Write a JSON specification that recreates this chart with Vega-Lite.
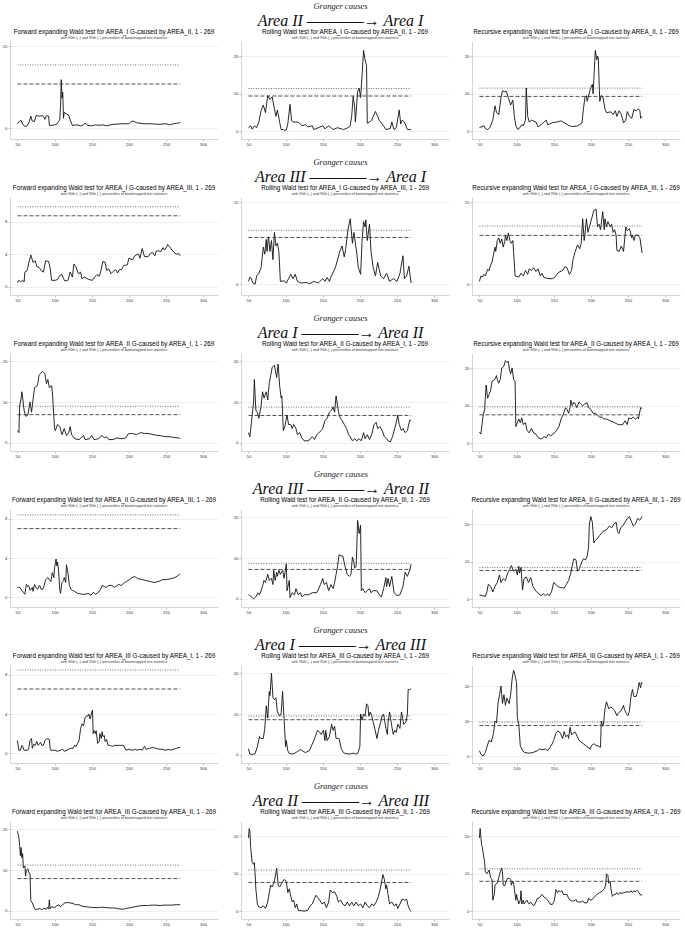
{
"$schema": "https://vega.github.io/schema/vega-lite/v6.json",
"background": "white",
"padding": {"left": 1, "right": 1, "top": 1, "bottom": 1},
"config": {
 "font": "Liberation Sans",
 "view": {"stroke": null},
 "axis": {"labelFontSize": 4.3, "labelColor": "#333", "labelOverlap": false, "tickSize": 2, "tickWidth": 0.5, "tickColor": "#888", "domainColor": "#bbb", "domainWidth": 0.6, "labelPadding": 1, "gridColor": "#e4e4e4", "gridWidth": 0.6},
 "axisX": {"grid": false},
 "axisY": {"grid": true, "minExtent": 9, "maxExtent": 9},
 "title": {"fontSize": 6.3, "fontWeight": "normal", "color": "#000", "subtitleFontSize": 3.6, "subtitleColor": "#333", "offset": 1.5, "subtitlePadding": 0.6},
 "concat": {"spacing": 14},
 "line": {"color": "#111", "strokeWidth": 0.9},
 "rule": {"strokeWidth": 0.85}
},
"datasets": {
"thr": [
{"k":"a1","q":"90th","v":8.1,"x0":50,"x1":269},{"k":"a1","q":"95th","v":11.6,"x0":50,"x1":269},
{"k":"a2","q":"90th","v":9.4,"x0":50,"x1":269},{"k":"a2","q":"95th","v":11.4,"x0":50,"x1":269},
{"k":"a3","q":"90th","v":9.3,"x0":50,"x1":269},{"k":"a3","q":"95th","v":11.5,"x0":50,"x1":269},
{"k":"b1","q":"90th","v":8.7,"x0":50,"x1":269},{"k":"b1","q":"95th","v":9.8,"x0":50,"x1":269},
{"k":"b2","q":"90th","v":8.55,"x0":50,"x1":269},{"k":"b2","q":"95th","v":9.9,"x0":50,"x1":269},
{"k":"b3","q":"90th","v":8.95,"x0":50,"x1":269},{"k":"b3","q":"95th","v":10.65,"x0":50,"x1":269},
{"k":"c1","q":"90th","v":6.9,"x0":50,"x1":269},{"k":"c1","q":"95th","v":8.95,"x0":50,"x1":269},
{"k":"c2","q":"90th","v":6.7,"x0":50,"x1":269},{"k":"c2","q":"95th","v":8.75,"x0":50,"x1":269},
{"k":"c3","q":"90th","v":7.6,"x0":50,"x1":269},{"k":"c3","q":"95th","v":9.7,"x0":50,"x1":269},
{"k":"d1","q":"90th","v":7.0,"x0":50,"x1":269},{"k":"d1","q":"95th","v":8.4,"x0":50,"x1":269},
{"k":"d2","q":"90th","v":7.2,"x0":50,"x1":269},{"k":"d2","q":"95th","v":8.7,"x0":50,"x1":269},
{"k":"d3","q":"90th","v":7.7,"x0":50,"x1":269},{"k":"d3","q":"95th","v":8.45,"x0":50,"x1":269},
{"k":"e1","q":"90th","v":6.55,"x0":50,"x1":269},{"k":"e1","q":"95th","v":8.5,"x0":50,"x1":269},
{"k":"e2","q":"90th","v":8.6,"x0":50,"x1":269},{"k":"e2","q":"95th","v":9.5,"x0":50,"x1":269},
{"k":"e3","q":"90th","v":8.7,"x0":50,"x1":269},{"k":"e3","q":"95th","v":9.7,"x0":50,"x1":269},
{"k":"f1","q":"90th","v":7.9,"x0":50,"x1":269},{"k":"f1","q":"95th","v":11.2,"x0":50,"x1":269},
{"k":"f2","q":"90th","v":7.7,"x0":50,"x1":269},{"k":"f2","q":"95th","v":11.0,"x0":50,"x1":269},
{"k":"f3","q":"90th","v":8.0,"x0":50,"x1":269},{"k":"f3","q":"95th","v":11.3,"x0":50,"x1":269}
],
"a1": [{"x":50,"y":0.8},{"x":53,"y":1.3},{"x":55,"y":1.4},{"x":57,"y":0.7},{"x":60,"y":0.3},{"x":63,"y":0.4},{"x":66,"y":1.2},{"x":68,"y":2.2},{"x":70,"y":1.3},{"x":73,"y":1.2},{"x":75,"y":2.3},{"x":80,"y":2.2},{"x":84,"y":2.3},{"x":87,"y":1.6},{"x":89,"y":2.3},{"x":92,"y":2.2},{"x":93,"y":0.5},{"x":97,"y":0.5},{"x":100,"y":0.6},{"x":103,"y":0.7},{"x":105,"y":1.2},{"x":107,"y":1.5},{"x":108,"y":4.0},{"x":109,"y":8.9},{"x":110,"y":5.5},{"x":111,"y":6.6},{"x":112,"y":1.8},{"x":113,"y":2.9},{"x":116,"y":2.6},{"x":119,"y":2.4},{"x":121,"y":1.5},{"x":124,"y":0.5},{"x":130,"y":0.6},{"x":135,"y":0.4},{"x":139,"y":0.6},{"x":141,"y":0.9},{"x":145,"y":0.5},{"x":150,"y":0.4},{"x":155,"y":0.6},{"x":160,"y":0.5},{"x":165,"y":0.6},{"x":170,"y":0.4},{"x":175,"y":0.6},{"x":180,"y":0.7},{"x":190,"y":0.8},{"x":200,"y":0.8},{"x":203,"y":1.2},{"x":206,"y":1.3},{"x":210,"y":1.0},{"x":220,"y":0.8},{"x":230,"y":0.8},{"x":240,"y":0.7},{"x":250,"y":0.8},{"x":255,"y":0.6},{"x":260,"y":0.8},{"x":265,"y":0.9},{"x":269,"y":1.0}],
"a2": [{"x":50,"y":1.0},{"x":53,"y":1.5},{"x":55,"y":0.6},{"x":58,"y":1.5},{"x":61,"y":1.0},{"x":64,"y":2.5},{"x":67,"y":5.5},{"x":70,"y":7.0},{"x":73,"y":5.0},{"x":76,"y":9.5},{"x":79,"y":8.5},{"x":82,"y":9.2},{"x":84,"y":7.0},{"x":87,"y":4.0},{"x":89,"y":5.7},{"x":92,"y":2.5},{"x":94,"y":0.5},{"x":97,"y":0.5},{"x":98,"y":0.3},{"x":101,"y":0.4},{"x":103,"y":2.0},{"x":106,"y":7.2},{"x":108,"y":3.0},{"x":110,"y":2.5},{"x":116,"y":2.5},{"x":119,"y":2.2},{"x":122,"y":1.5},{"x":127,"y":1.8},{"x":130,"y":1.2},{"x":136,"y":1.5},{"x":138,"y":0.5},{"x":144,"y":1.0},{"x":150,"y":1.5},{"x":153,"y":0.7},{"x":158,"y":1.5},{"x":164,"y":0.5},{"x":170,"y":1.0},{"x":178,"y":0.5},{"x":184,"y":1.0},{"x":187,"y":1.5},{"x":189,"y":4.0},{"x":191,"y":9.3},{"x":193,"y":6.5},{"x":194,"y":2.5},{"x":196,"y":7.8},{"x":197,"y":10.5},{"x":199,"y":11.5},{"x":201,"y":9.0},{"x":203,"y":15.0},{"x":205,"y":21.5},{"x":207,"y":19.0},{"x":209,"y":17.5},{"x":210,"y":2.2},{"x":213,"y":2.5},{"x":216,"y":3.0},{"x":218,"y":4.0},{"x":221,"y":5.3},{"x":224,"y":4.0},{"x":226,"y":3.0},{"x":232,"y":1.5},{"x":235,"y":0.5},{"x":241,"y":0.8},{"x":243,"y":2.5},{"x":246,"y":0.5},{"x":249,"y":1.0},{"x":253,"y":5.7},{"x":255,"y":2.0},{"x":257,"y":3.0},{"x":260,"y":2.5},{"x":262,"y":1.5},{"x":264,"y":0.5},{"x":269,"y":0.5}],
"a3": [{"x":50,"y":1.0},{"x":56,"y":1.5},{"x":58,"y":0.8},{"x":61,"y":0.5},{"x":64,"y":1.0},{"x":68,"y":3.0},{"x":71,"y":6.8},{"x":73,"y":5.0},{"x":76,"y":4.5},{"x":79,"y":9.0},{"x":81,"y":10.8},{"x":84,"y":10.5},{"x":86,"y":10.7},{"x":89,"y":9.0},{"x":92,"y":7.0},{"x":95,"y":8.3},{"x":97,"y":4.0},{"x":99,"y":1.5},{"x":102,"y":0.5},{"x":105,"y":1.2},{"x":107,"y":1.8},{"x":109,"y":1.5},{"x":112,"y":3.0},{"x":113,"y":11.5},{"x":115,"y":4.0},{"x":117,"y":2.5},{"x":120,"y":3.0},{"x":126,"y":2.5},{"x":129,"y":1.2},{"x":134,"y":2.0},{"x":140,"y":3.0},{"x":142,"y":1.8},{"x":148,"y":2.3},{"x":154,"y":2.5},{"x":160,"y":2.8},{"x":165,"y":2.2},{"x":171,"y":1.5},{"x":176,"y":1.3},{"x":182,"y":1.5},{"x":188,"y":2.2},{"x":190,"y":6.0},{"x":192,"y":9.0},{"x":194,"y":9.5},{"x":195,"y":8.0},{"x":199,"y":11.0},{"x":202,"y":12.5},{"x":203,"y":10.0},{"x":204,"y":14.0},{"x":206,"y":21.5},{"x":208,"y":19.0},{"x":209,"y":20.0},{"x":210,"y":19.5},{"x":212,"y":8.0},{"x":214,"y":9.5},{"x":216,"y":9.3},{"x":219,"y":6.0},{"x":221,"y":5.0},{"x":227,"y":5.2},{"x":230,"y":4.5},{"x":233,"y":5.5},{"x":235,"y":4.0},{"x":238,"y":5.5},{"x":241,"y":4.5},{"x":244,"y":2.3},{"x":247,"y":3.0},{"x":249,"y":5.3},{"x":252,"y":4.0},{"x":255,"y":3.5},{"x":258,"y":5.8},{"x":261,"y":5.5},{"x":264,"y":6.0},{"x":266,"y":5.5},{"x":267,"y":3.5},{"x":269,"y":4.0}],
"b1": [{"x":50,"y":0.5},{"x":52,"y":0.8},{"x":54,"y":0.6},{"x":57,"y":0.8},{"x":59,"y":0.6},{"x":60,"y":1.8},{"x":63,"y":2.0},{"x":65,"y":2.8},{"x":68,"y":3.9},{"x":71,"y":3.0},{"x":74,"y":3.2},{"x":76,"y":2.5},{"x":79,"y":2.4},{"x":82,"y":2.0},{"x":85,"y":1.8},{"x":88,"y":3.2},{"x":92,"y":3.1},{"x":94,"y":2.3},{"x":96,"y":0.8},{"x":101,"y":0.8},{"x":104,"y":0.9},{"x":107,"y":1.4},{"x":110,"y":1.5},{"x":112,"y":1.0},{"x":114,"y":0.7},{"x":118,"y":0.8},{"x":121,"y":1.8},{"x":124,"y":1.2},{"x":126,"y":2.8},{"x":129,"y":2.4},{"x":132,"y":1.6},{"x":135,"y":1.8},{"x":137,"y":1.0},{"x":140,"y":1.2},{"x":146,"y":0.9},{"x":151,"y":0.8},{"x":154,"y":1.2},{"x":157,"y":1.5},{"x":160,"y":1.3},{"x":162,"y":1.8},{"x":165,"y":3.1},{"x":168,"y":3.0},{"x":170,"y":2.0},{"x":173,"y":2.2},{"x":176,"y":1.6},{"x":179,"y":1.9},{"x":182,"y":2.1},{"x":185,"y":1.7},{"x":187,"y":2.1},{"x":190,"y":2.1},{"x":193,"y":2.6},{"x":198,"y":2.7},{"x":200,"y":3.5},{"x":205,"y":3.3},{"x":207,"y":3.7},{"x":210,"y":3.9},{"x":213,"y":4.0},{"x":215,"y":3.5},{"x":218,"y":4.7},{"x":221,"y":3.7},{"x":226,"y":3.7},{"x":229,"y":4.1},{"x":232,"y":4.2},{"x":235,"y":3.8},{"x":237,"y":4.4},{"x":240,"y":4.4},{"x":243,"y":4.3},{"x":246,"y":4.8},{"x":248,"y":4.5},{"x":251,"y":4.9},{"x":252,"y":5.2},{"x":255,"y":4.9},{"x":258,"y":4.5},{"x":261,"y":4.2},{"x":264,"y":4.0},{"x":267,"y":4.1},{"x":269,"y":3.8}],
"b2": [{"x":50,"y":0.5},{"x":52,"y":1.3},{"x":54,"y":1.0},{"x":56,"y":0.2},{"x":59,"y":0.0},{"x":61,"y":1.5},{"x":64,"y":2.0},{"x":67,"y":3.0},{"x":70,"y":6.8},{"x":72,"y":5.5},{"x":74,"y":8.2},{"x":75,"y":6.0},{"x":77,"y":8.7},{"x":79,"y":6.0},{"x":81,"y":8.0},{"x":83,"y":4.5},{"x":85,"y":9.5},{"x":87,"y":7.0},{"x":89,"y":7.5},{"x":91,"y":6.0},{"x":93,"y":0.5},{"x":98,"y":0.6},{"x":101,"y":0.2},{"x":104,"y":1.0},{"x":107,"y":1.8},{"x":110,"y":1.0},{"x":113,"y":1.8},{"x":116,"y":0.5},{"x":121,"y":0.2},{"x":127,"y":0.3},{"x":133,"y":0.1},{"x":138,"y":0.5},{"x":144,"y":0.2},{"x":150,"y":1.0},{"x":153,"y":0.5},{"x":156,"y":1.2},{"x":159,"y":0.5},{"x":161,"y":1.3},{"x":167,"y":3.0},{"x":173,"y":6.0},{"x":176,"y":7.0},{"x":179,"y":5.0},{"x":181,"y":6.5},{"x":184,"y":10.0},{"x":187,"y":12.0},{"x":190,"y":7.5},{"x":192,"y":9.5},{"x":193,"y":8.5},{"x":196,"y":5.5},{"x":198,"y":3.0},{"x":201,"y":1.8},{"x":203,"y":8.0},{"x":205,"y":11.5},{"x":207,"y":10.5},{"x":208,"y":11.8},{"x":210,"y":8.0},{"x":213,"y":11.0},{"x":215,"y":6.0},{"x":218,"y":3.0},{"x":221,"y":1.5},{"x":224,"y":4.0},{"x":228,"y":1.5},{"x":232,"y":1.0},{"x":236,"y":2.0},{"x":240,"y":0.5},{"x":245,"y":1.0},{"x":250,"y":0.5},{"x":254,"y":2.0},{"x":258,"y":5.2},{"x":260,"y":1.0},{"x":263,"y":1.5},{"x":266,"y":3.3},{"x":269,"y":0.2}],
"b3": [{"x":50,"y":0.5},{"x":52,"y":1.5},{"x":54,"y":1.3},{"x":56,"y":1.8},{"x":58,"y":1.5},{"x":61,"y":2.7},{"x":63,"y":2.5},{"x":65,"y":3.5},{"x":67,"y":4.0},{"x":69,"y":5.5},{"x":71,"y":6.8},{"x":72,"y":6.0},{"x":74,"y":8.0},{"x":76,"y":8.5},{"x":78,"y":7.5},{"x":80,"y":8.3},{"x":82,"y":6.8},{"x":84,"y":7.8},{"x":85,"y":9.0},{"x":87,"y":8.0},{"x":89,"y":9.4},{"x":91,"y":8.0},{"x":93,"y":7.5},{"x":95,"y":8.0},{"x":98,"y":1.5},{"x":103,"y":1.3},{"x":106,"y":2.0},{"x":109,"y":1.5},{"x":112,"y":2.5},{"x":115,"y":1.8},{"x":117,"y":2.8},{"x":120,"y":2.5},{"x":123,"y":3.0},{"x":126,"y":2.3},{"x":129,"y":2.8},{"x":132,"y":1.5},{"x":134,"y":2.0},{"x":137,"y":1.2},{"x":143,"y":1.0},{"x":148,"y":1.0},{"x":151,"y":1.2},{"x":157,"y":2.2},{"x":162,"y":2.5},{"x":165,"y":3.2},{"x":168,"y":3.0},{"x":171,"y":1.8},{"x":174,"y":2.5},{"x":176,"y":4.5},{"x":179,"y":6.0},{"x":182,"y":7.2},{"x":185,"y":6.5},{"x":187,"y":7.5},{"x":189,"y":12.0},{"x":191,"y":8.0},{"x":192,"y":9.0},{"x":194,"y":12.0},{"x":196,"y":9.5},{"x":199,"y":11.0},{"x":202,"y":12.5},{"x":204,"y":13.5},{"x":207,"y":13.8},{"x":209,"y":10.5},{"x":211,"y":11.0},{"x":213,"y":10.0},{"x":216,"y":13.3},{"x":218,"y":10.0},{"x":219,"y":12.0},{"x":221,"y":10.5},{"x":223,"y":11.5},{"x":226,"y":10.5},{"x":228,"y":11.0},{"x":230,"y":9.5},{"x":232,"y":10.0},{"x":234,"y":9.0},{"x":235,"y":6.2},{"x":238,"y":6.0},{"x":241,"y":7.0},{"x":244,"y":6.0},{"x":247,"y":10.5},{"x":249,"y":9.8},{"x":252,"y":10.2},{"x":255,"y":8.5},{"x":256,"y":9.0},{"x":258,"y":8.0},{"x":260,"y":9.0},{"x":263,"y":9.0},{"x":266,"y":8.5},{"x":269,"y":5.7}],
"c1": [{"x":50,"y":3.0},{"x":52,"y":2.5},{"x":53,"y":9.0},{"x":55,"y":11.0},{"x":56,"y":12.5},{"x":59,"y":8.0},{"x":61,"y":6.5},{"x":64,"y":6.8},{"x":67,"y":10.0},{"x":69,"y":7.5},{"x":71,"y":10.5},{"x":73,"y":13.5},{"x":77,"y":14.0},{"x":79,"y":16.5},{"x":81,"y":17.0},{"x":84,"y":17.5},{"x":87,"y":17.0},{"x":89,"y":14.5},{"x":91,"y":15.5},{"x":93,"y":13.5},{"x":96,"y":14.0},{"x":97,"y":12.5},{"x":100,"y":3.5},{"x":101,"y":3.0},{"x":104,"y":4.5},{"x":107,"y":4.0},{"x":110,"y":2.0},{"x":113,"y":3.5},{"x":116,"y":1.8},{"x":119,"y":2.5},{"x":121,"y":4.0},{"x":123,"y":2.0},{"x":127,"y":1.0},{"x":133,"y":0.8},{"x":139,"y":1.8},{"x":141,"y":0.8},{"x":147,"y":1.0},{"x":150,"y":1.8},{"x":153,"y":0.8},{"x":159,"y":1.0},{"x":164,"y":1.8},{"x":167,"y":1.2},{"x":170,"y":1.5},{"x":173,"y":0.8},{"x":179,"y":0.8},{"x":184,"y":1.2},{"x":190,"y":1.0},{"x":196,"y":1.2},{"x":199,"y":2.2},{"x":205,"y":2.3},{"x":210,"y":2.0},{"x":216,"y":2.5},{"x":221,"y":2.3},{"x":227,"y":2.3},{"x":233,"y":2.0},{"x":239,"y":1.8},{"x":244,"y":1.7},{"x":250,"y":1.5},{"x":256,"y":1.5},{"x":261,"y":1.3},{"x":267,"y":1.2},{"x":269,"y":1.1}],
"c2": [{"x":50,"y":2.5},{"x":52,"y":1.5},{"x":54,"y":5.0},{"x":57,"y":10.0},{"x":58,"y":15.5},{"x":60,"y":8.0},{"x":62,"y":7.5},{"x":64,"y":6.0},{"x":67,"y":9.0},{"x":69,"y":12.5},{"x":71,"y":11.0},{"x":74,"y":12.5},{"x":76,"y":10.5},{"x":78,"y":14.5},{"x":80,"y":16.5},{"x":82,"y":18.5},{"x":85,"y":19.0},{"x":88,"y":16.0},{"x":90,"y":19.3},{"x":92,"y":14.0},{"x":94,"y":11.0},{"x":95,"y":11.5},{"x":97,"y":3.0},{"x":99,"y":4.0},{"x":102,"y":6.8},{"x":104,"y":4.5},{"x":107,"y":4.5},{"x":109,"y":3.5},{"x":111,"y":4.5},{"x":114,"y":3.5},{"x":116,"y":2.0},{"x":119,"y":2.5},{"x":122,"y":1.2},{"x":125,"y":0.5},{"x":131,"y":0.5},{"x":133,"y":1.0},{"x":136,"y":1.5},{"x":139,"y":0.8},{"x":142,"y":2.0},{"x":145,"y":2.5},{"x":148,"y":3.0},{"x":150,"y":3.5},{"x":153,"y":5.5},{"x":156,"y":6.0},{"x":159,"y":7.5},{"x":162,"y":8.0},{"x":164,"y":8.8},{"x":166,"y":7.5},{"x":168,"y":11.5},{"x":170,"y":9.0},{"x":172,"y":7.0},{"x":174,"y":6.0},{"x":176,"y":5.5},{"x":179,"y":4.5},{"x":182,"y":3.5},{"x":185,"y":2.0},{"x":187,"y":1.5},{"x":190,"y":0.5},{"x":193,"y":1.0},{"x":196,"y":0.5},{"x":199,"y":1.0},{"x":202,"y":0.5},{"x":205,"y":2.5},{"x":207,"y":1.0},{"x":210,"y":2.0},{"x":213,"y":0.8},{"x":216,"y":2.0},{"x":219,"y":4.5},{"x":222,"y":5.0},{"x":224,"y":3.5},{"x":227,"y":4.0},{"x":230,"y":3.0},{"x":233,"y":1.5},{"x":236,"y":1.0},{"x":238,"y":0.5},{"x":241,"y":0.2},{"x":244,"y":1.5},{"x":247,"y":3.5},{"x":249,"y":5.0},{"x":251,"y":6.8},{"x":253,"y":4.5},{"x":256,"y":3.0},{"x":258,"y":3.5},{"x":261,"y":2.5},{"x":264,"y":3.0},{"x":267,"y":5.5},{"x":269,"y":5.5}],
"c3": [{"x":50,"y":3.0},{"x":52,"y":2.5},{"x":55,"y":7.5},{"x":57,"y":9.0},{"x":59,"y":15.5},{"x":61,"y":12.0},{"x":63,"y":13.0},{"x":65,"y":14.0},{"x":67,"y":16.5},{"x":71,"y":17.0},{"x":73,"y":18.0},{"x":74,"y":17.0},{"x":76,"y":16.0},{"x":78,"y":17.0},{"x":80,"y":20.0},{"x":83,"y":20.5},{"x":85,"y":22.0},{"x":87,"y":21.5},{"x":89,"y":21.8},{"x":90,"y":20.0},{"x":92,"y":18.5},{"x":94,"y":20.0},{"x":96,"y":17.0},{"x":98,"y":16.5},{"x":99,"y":4.5},{"x":101,"y":5.5},{"x":103,"y":6.5},{"x":105,"y":5.5},{"x":107,"y":6.8},{"x":109,"y":5.0},{"x":112,"y":5.5},{"x":114,"y":3.5},{"x":117,"y":2.8},{"x":120,"y":4.0},{"x":123,"y":2.8},{"x":126,"y":2.5},{"x":129,"y":1.5},{"x":133,"y":1.2},{"x":137,"y":1.8},{"x":140,"y":1.5},{"x":143,"y":2.5},{"x":146,"y":2.0},{"x":149,"y":2.5},{"x":152,"y":3.0},{"x":154,"y":3.5},{"x":157,"y":4.5},{"x":160,"y":6.5},{"x":163,"y":7.8},{"x":166,"y":9.5},{"x":168,"y":9.0},{"x":170,"y":8.0},{"x":172,"y":9.5},{"x":173,"y":11.5},{"x":175,"y":10.0},{"x":177,"y":11.0},{"x":179,"y":10.5},{"x":181,"y":9.5},{"x":184,"y":11.0},{"x":186,"y":10.5},{"x":189,"y":10.0},{"x":192,"y":10.5},{"x":195,"y":10.8},{"x":197,"y":9.5},{"x":200,"y":9.0},{"x":203,"y":8.0},{"x":206,"y":8.0},{"x":209,"y":7.5},{"x":212,"y":7.0},{"x":215,"y":7.0},{"x":217,"y":6.5},{"x":220,"y":6.5},{"x":223,"y":6.3},{"x":226,"y":6.0},{"x":232,"y":5.5},{"x":237,"y":5.0},{"x":243,"y":5.0},{"x":246,"y":6.0},{"x":249,"y":5.0},{"x":251,"y":6.8},{"x":254,"y":6.5},{"x":257,"y":7.0},{"x":260,"y":6.5},{"x":263,"y":7.0},{"x":264,"y":6.5},{"x":267,"y":9.5},{"x":269,"y":9.3}],
"d1": [{"x":50,"y":1.0},{"x":53,"y":1.0},{"x":56,"y":0.7},{"x":58,"y":0.5},{"x":60,"y":0.3},{"x":62,"y":1.3},{"x":64,"y":1.1},{"x":65,"y":1.2},{"x":67,"y":0.7},{"x":70,"y":1.0},{"x":71,"y":0.6},{"x":73,"y":1.3},{"x":75,"y":1.0},{"x":77,"y":0.8},{"x":80,"y":1.2},{"x":82,"y":0.8},{"x":84,"y":0.8},{"x":86,"y":1.2},{"x":88,"y":1.8},{"x":91,"y":2.0},{"x":93,"y":1.8},{"x":95,"y":1.6},{"x":97,"y":2.5},{"x":99,"y":2.0},{"x":100,"y":3.0},{"x":102,"y":3.9},{"x":103,"y":3.2},{"x":104,"y":3.6},{"x":105,"y":3.0},{"x":106,"y":2.0},{"x":107,"y":0.8},{"x":108,"y":0.4},{"x":110,"y":1.5},{"x":112,"y":1.7},{"x":113,"y":2.0},{"x":115,"y":1.5},{"x":116,"y":3.3},{"x":118,"y":2.5},{"x":120,"y":1.2},{"x":122,"y":0.8},{"x":124,"y":0.7},{"x":127,"y":0.6},{"x":131,"y":0.4},{"x":137,"y":0.3},{"x":142,"y":0.3},{"x":145,"y":0.4},{"x":149,"y":0.2},{"x":152,"y":0.5},{"x":155,"y":0.3},{"x":159,"y":0.5},{"x":162,"y":0.8},{"x":164,"y":1.2},{"x":169,"y":1.0},{"x":173,"y":1.2},{"x":177,"y":1.2},{"x":181,"y":1.0},{"x":186,"y":1.3},{"x":190,"y":1.2},{"x":194,"y":1.5},{"x":197,"y":1.6},{"x":201,"y":1.8},{"x":204,"y":2.0},{"x":208,"y":2.1},{"x":212,"y":1.9},{"x":218,"y":1.8},{"x":223,"y":1.7},{"x":229,"y":1.6},{"x":234,"y":1.5},{"x":240,"y":1.6},{"x":246,"y":1.8},{"x":251,"y":1.8},{"x":257,"y":1.9},{"x":262,"y":2.0},{"x":266,"y":2.2},{"x":269,"y":2.4}],
"d2": [{"x":50,"y":1.0},{"x":52,"y":0.8},{"x":54,"y":0.5},{"x":57,"y":0.0},{"x":60,"y":0.5},{"x":63,"y":1.5},{"x":65,"y":1.0},{"x":68,"y":2.5},{"x":71,"y":4.5},{"x":73,"y":4.0},{"x":76,"y":6.0},{"x":78,"y":4.5},{"x":81,"y":5.0},{"x":83,"y":3.5},{"x":84,"y":7.0},{"x":86,"y":4.5},{"x":88,"y":6.5},{"x":89,"y":5.5},{"x":91,"y":7.0},{"x":93,"y":6.0},{"x":96,"y":7.0},{"x":98,"y":5.0},{"x":101,"y":8.6},{"x":102,"y":2.0},{"x":105,"y":4.5},{"x":106,"y":0.3},{"x":109,"y":1.5},{"x":112,"y":1.0},{"x":114,"y":2.5},{"x":117,"y":1.0},{"x":120,"y":1.5},{"x":122,"y":0.5},{"x":125,"y":1.0},{"x":131,"y":1.0},{"x":136,"y":1.5},{"x":142,"y":1.5},{"x":147,"y":3.5},{"x":150,"y":5.0},{"x":152,"y":3.5},{"x":155,"y":4.0},{"x":158,"y":2.0},{"x":161,"y":3.5},{"x":164,"y":2.5},{"x":166,"y":4.0},{"x":168,"y":6.0},{"x":170,"y":8.0},{"x":172,"y":10.8},{"x":175,"y":10.5},{"x":177,"y":10.5},{"x":180,"y":8.0},{"x":183,"y":6.0},{"x":186,"y":5.5},{"x":188,"y":6.0},{"x":190,"y":10.2},{"x":192,"y":9.0},{"x":193,"y":7.5},{"x":195,"y":8.0},{"x":197,"y":19.2},{"x":199,"y":16.0},{"x":201,"y":18.0},{"x":202,"y":2.0},{"x":204,"y":2.5},{"x":207,"y":1.5},{"x":213,"y":2.5},{"x":215,"y":1.5},{"x":218,"y":2.0},{"x":223,"y":2.0},{"x":226,"y":1.0},{"x":229,"y":0.5},{"x":232,"y":2.5},{"x":235,"y":5.2},{"x":236,"y":3.0},{"x":238,"y":5.0},{"x":240,"y":3.0},{"x":243,"y":5.5},{"x":246,"y":1.5},{"x":250,"y":0.8},{"x":254,"y":1.0},{"x":258,"y":3.0},{"x":261,"y":6.5},{"x":264,"y":5.5},{"x":267,"y":7.0},{"x":269,"y":8.5}],
"d3": [{"x":50,"y":1.2},{"x":54,"y":1.0},{"x":58,"y":0.8},{"x":60,"y":2.0},{"x":62,"y":4.0},{"x":65,"y":3.5},{"x":68,"y":2.0},{"x":71,"y":3.5},{"x":74,"y":4.5},{"x":77,"y":6.5},{"x":79,"y":4.5},{"x":82,"y":5.5},{"x":85,"y":5.0},{"x":88,"y":7.0},{"x":91,"y":8.0},{"x":93,"y":9.0},{"x":96,"y":7.5},{"x":99,"y":8.0},{"x":101,"y":6.5},{"x":103,"y":8.8},{"x":104,"y":7.0},{"x":106,"y":8.5},{"x":108,"y":2.5},{"x":110,"y":5.5},{"x":113,"y":6.0},{"x":116,"y":4.5},{"x":119,"y":5.8},{"x":122,"y":3.5},{"x":125,"y":2.5},{"x":127,"y":2.0},{"x":130,"y":1.5},{"x":133,"y":1.0},{"x":136,"y":1.5},{"x":139,"y":1.0},{"x":142,"y":1.5},{"x":144,"y":1.0},{"x":147,"y":2.0},{"x":150,"y":4.5},{"x":153,"y":4.0},{"x":155,"y":3.5},{"x":158,"y":3.2},{"x":164,"y":3.0},{"x":167,"y":4.0},{"x":170,"y":5.0},{"x":173,"y":7.0},{"x":175,"y":9.0},{"x":177,"y":10.8},{"x":180,"y":10.5},{"x":182,"y":7.5},{"x":184,"y":8.0},{"x":186,"y":9.0},{"x":188,"y":10.0},{"x":190,"y":10.8},{"x":193,"y":10.5},{"x":195,"y":11.5},{"x":197,"y":14.0},{"x":198,"y":20.0},{"x":200,"y":22.0},{"x":202,"y":20.5},{"x":204,"y":15.0},{"x":205,"y":15.5},{"x":208,"y":16.0},{"x":212,"y":17.0},{"x":216,"y":18.0},{"x":221,"y":18.5},{"x":225,"y":19.5},{"x":228,"y":19.0},{"x":231,"y":20.0},{"x":234,"y":20.5},{"x":236,"y":18.0},{"x":238,"y":17.5},{"x":240,"y":19.0},{"x":243,"y":19.5},{"x":246,"y":20.5},{"x":249,"y":21.5},{"x":252,"y":22.0},{"x":254,"y":21.0},{"x":257,"y":19.5},{"x":260,"y":20.0},{"x":263,"y":21.5},{"x":266,"y":21.0},{"x":269,"y":22.0}],
"e1": [{"x":50,"y":1.3},{"x":52,"y":0.3},{"x":54,"y":0.3},{"x":56,"y":0.8},{"x":57,"y":0.7},{"x":59,"y":0.3},{"x":63,"y":0.3},{"x":65,"y":0.4},{"x":67,"y":1.3},{"x":69,"y":1.5},{"x":70,"y":0.5},{"x":72,"y":0.9},{"x":74,"y":0.8},{"x":76,"y":1.2},{"x":78,"y":0.8},{"x":80,"y":1.0},{"x":81,"y":1.1},{"x":83,"y":0.8},{"x":85,"y":0.8},{"x":87,"y":1.3},{"x":90,"y":1.5},{"x":93,"y":1.4},{"x":94,"y":0.5},{"x":95,"y":0.3},{"x":100,"y":0.3},{"x":104,"y":0.2},{"x":108,"y":0.3},{"x":111,"y":0.4},{"x":113,"y":0.2},{"x":117,"y":0.3},{"x":121,"y":0.5},{"x":125,"y":0.5},{"x":127,"y":0.8},{"x":129,"y":0.7},{"x":131,"y":1.0},{"x":133,"y":1.3},{"x":135,"y":2.5},{"x":137,"y":3.0},{"x":139,"y":2.8},{"x":141,"y":3.6},{"x":143,"y":3.8},{"x":145,"y":3.8},{"x":146,"y":4.0},{"x":148,"y":3.5},{"x":150,"y":4.2},{"x":151,"y":4.4},{"x":152,"y":2.0},{"x":153,"y":2.3},{"x":155,"y":2.0},{"x":156,"y":2.3},{"x":158,"y":1.0},{"x":160,"y":1.2},{"x":161,"y":2.0},{"x":163,"y":1.5},{"x":164,"y":2.2},{"x":165,"y":1.7},{"x":167,"y":1.8},{"x":168,"y":1.2},{"x":170,"y":1.4},{"x":172,"y":0.8},{"x":175,"y":0.8},{"x":178,"y":0.7},{"x":181,"y":0.8},{"x":186,"y":0.8},{"x":190,"y":0.8},{"x":193,"y":0.8},{"x":196,"y":0.3},{"x":200,"y":0.4},{"x":205,"y":0.3},{"x":209,"y":0.4},{"x":211,"y":0.3},{"x":215,"y":0.4},{"x":218,"y":0.3},{"x":221,"y":0.7},{"x":223,"y":0.4},{"x":228,"y":0.5},{"x":232,"y":0.6},{"x":236,"y":0.5},{"x":241,"y":0.4},{"x":245,"y":0.4},{"x":249,"y":0.3},{"x":254,"y":0.4},{"x":256,"y":0.3},{"x":260,"y":0.4},{"x":264,"y":0.5},{"x":269,"y":0.6}],
"e2": [{"x":50,"y":1.5},{"x":52,"y":0.2},{"x":56,"y":0.1},{"x":59,"y":0.3},{"x":62,"y":2.0},{"x":65,"y":4.5},{"x":67,"y":4.0},{"x":70,"y":4.0},{"x":72,"y":6.5},{"x":74,"y":12.0},{"x":76,"y":9.0},{"x":78,"y":15.5},{"x":79,"y":14.5},{"x":81,"y":20.0},{"x":83,"y":14.0},{"x":85,"y":13.5},{"x":87,"y":14.0},{"x":89,"y":10.5},{"x":92,"y":9.5},{"x":94,"y":10.0},{"x":96,"y":15.5},{"x":97,"y":12.0},{"x":100,"y":2.0},{"x":101,"y":3.5},{"x":103,"y":1.0},{"x":105,"y":0.3},{"x":110,"y":0.2},{"x":113,"y":0.5},{"x":116,"y":0.8},{"x":119,"y":1.2},{"x":121,"y":1.2},{"x":127,"y":0.5},{"x":129,"y":0.8},{"x":132,"y":1.0},{"x":138,"y":3.5},{"x":140,"y":4.5},{"x":143,"y":6.0},{"x":146,"y":5.5},{"x":148,"y":5.0},{"x":151,"y":6.0},{"x":153,"y":3.5},{"x":154,"y":6.0},{"x":156,"y":3.5},{"x":159,"y":4.5},{"x":162,"y":7.5},{"x":164,"y":6.0},{"x":166,"y":7.0},{"x":168,"y":4.0},{"x":170,"y":4.0},{"x":172,"y":4.0},{"x":175,"y":1.5},{"x":178,"y":0.5},{"x":181,"y":0.3},{"x":186,"y":0.2},{"x":192,"y":0.4},{"x":194,"y":0.2},{"x":197,"y":0.3},{"x":200,"y":2.0},{"x":201,"y":10.0},{"x":203,"y":8.5},{"x":205,"y":10.0},{"x":207,"y":9.5},{"x":209,"y":12.5},{"x":211,"y":12.0},{"x":212,"y":9.5},{"x":214,"y":10.5},{"x":216,"y":9.5},{"x":218,"y":8.0},{"x":220,"y":6.5},{"x":223,"y":4.0},{"x":225,"y":6.0},{"x":228,"y":8.0},{"x":230,"y":9.5},{"x":232,"y":10.0},{"x":235,"y":6.5},{"x":237,"y":5.0},{"x":238,"y":8.0},{"x":240,"y":10.5},{"x":243,"y":7.0},{"x":245,"y":5.0},{"x":247,"y":6.0},{"x":249,"y":5.5},{"x":251,"y":7.5},{"x":254,"y":6.5},{"x":256,"y":10.5},{"x":259,"y":7.5},{"x":262,"y":8.0},{"x":264,"y":10.0},{"x":265,"y":16.0},{"x":267,"y":16.0},{"x":269,"y":16.2}],
"e3": [{"x":50,"y":1.5},{"x":52,"y":0.5},{"x":55,"y":0.0},{"x":58,"y":1.0},{"x":60,"y":2.5},{"x":63,"y":4.5},{"x":66,"y":4.0},{"x":69,"y":6.5},{"x":71,"y":10.0},{"x":73,"y":9.5},{"x":75,"y":15.0},{"x":77,"y":17.5},{"x":79,"y":20.0},{"x":81,"y":15.0},{"x":83,"y":17.5},{"x":85,"y":14.5},{"x":87,"y":16.5},{"x":90,"y":15.0},{"x":92,"y":17.5},{"x":94,"y":22.0},{"x":96,"y":24.5},{"x":98,"y":23.0},{"x":100,"y":21.0},{"x":101,"y":11.0},{"x":103,"y":9.0},{"x":105,"y":3.0},{"x":108,"y":1.5},{"x":111,"y":1.0},{"x":117,"y":0.8},{"x":122,"y":1.0},{"x":128,"y":1.5},{"x":131,"y":2.0},{"x":134,"y":1.8},{"x":139,"y":2.0},{"x":142,"y":1.5},{"x":145,"y":2.5},{"x":148,"y":3.5},{"x":150,"y":4.5},{"x":153,"y":6.5},{"x":156,"y":7.2},{"x":159,"y":6.5},{"x":162,"y":5.0},{"x":164,"y":7.0},{"x":166,"y":5.5},{"x":169,"y":6.0},{"x":170,"y":5.0},{"x":172,"y":8.2},{"x":174,"y":6.0},{"x":176,"y":6.5},{"x":179,"y":6.8},{"x":182,"y":5.5},{"x":184,"y":4.5},{"x":187,"y":4.0},{"x":190,"y":3.5},{"x":193,"y":3.0},{"x":196,"y":2.5},{"x":199,"y":2.0},{"x":201,"y":3.0},{"x":204,"y":3.5},{"x":207,"y":3.0},{"x":210,"y":2.8},{"x":213,"y":2.5},{"x":214,"y":10.0},{"x":216,"y":8.5},{"x":217,"y":9.0},{"x":219,"y":13.5},{"x":221,"y":15.5},{"x":224,"y":13.5},{"x":227,"y":14.0},{"x":230,"y":13.5},{"x":232,"y":13.0},{"x":235,"y":11.5},{"x":238,"y":12.5},{"x":241,"y":13.0},{"x":244,"y":14.5},{"x":245,"y":13.5},{"x":248,"y":12.0},{"x":250,"y":11.5},{"x":252,"y":13.0},{"x":254,"y":17.0},{"x":256,"y":19.0},{"x":258,"y":17.0},{"x":261,"y":17.0},{"x":263,"y":18.5},{"x":265,"y":21.0},{"x":267,"y":19.5},{"x":268,"y":21.0},{"x":269,"y":20.5}],
"f1": [{"x":50,"y":19.5},{"x":52,"y":18.0},{"x":53,"y":16.0},{"x":54,"y":13.5},{"x":55,"y":15.5},{"x":56,"y":13.0},{"x":57,"y":14.0},{"x":58,"y":10.5},{"x":60,"y":11.0},{"x":61,"y":8.5},{"x":62,"y":10.0},{"x":64,"y":10.3},{"x":65,"y":9.5},{"x":67,"y":9.0},{"x":68,"y":2.5},{"x":70,"y":2.0},{"x":73,"y":0.5},{"x":75,"y":0.3},{"x":78,"y":0.5},{"x":81,"y":0.5},{"x":83,"y":0.3},{"x":86,"y":0.6},{"x":89,"y":0.4},{"x":90,"y":0.8},{"x":92,"y":0.5},{"x":93,"y":2.7},{"x":94,"y":0.5},{"x":96,"y":1.0},{"x":100,"y":0.8},{"x":103,"y":1.2},{"x":106,"y":1.5},{"x":108,"y":1.0},{"x":111,"y":1.5},{"x":114,"y":2.0},{"x":119,"y":2.0},{"x":125,"y":1.8},{"x":128,"y":1.5},{"x":131,"y":1.5},{"x":133,"y":1.5},{"x":136,"y":1.2},{"x":142,"y":1.0},{"x":147,"y":0.9},{"x":153,"y":0.8},{"x":158,"y":0.8},{"x":164,"y":0.9},{"x":169,"y":0.8},{"x":175,"y":0.7},{"x":181,"y":0.7},{"x":186,"y":0.5},{"x":192,"y":0.4},{"x":197,"y":0.6},{"x":203,"y":0.8},{"x":208,"y":1.0},{"x":214,"y":1.2},{"x":219,"y":1.3},{"x":225,"y":1.3},{"x":231,"y":1.4},{"x":236,"y":1.4},{"x":242,"y":1.3},{"x":247,"y":1.4},{"x":253,"y":1.4},{"x":258,"y":1.4},{"x":264,"y":1.5},{"x":269,"y":1.5}],
"f2": [{"x":50,"y":19.5},{"x":51,"y":22.0},{"x":52,"y":21.5},{"x":53,"y":17.0},{"x":55,"y":13.0},{"x":57,"y":12.5},{"x":58,"y":13.0},{"x":59,"y":10.0},{"x":60,"y":6.0},{"x":62,"y":2.0},{"x":64,"y":1.2},{"x":67,"y":1.0},{"x":70,"y":1.5},{"x":73,"y":0.8},{"x":76,"y":2.5},{"x":78,"y":5.0},{"x":80,"y":7.0},{"x":82,"y":6.5},{"x":85,"y":8.0},{"x":88,"y":11.5},{"x":90,"y":7.0},{"x":92,"y":6.5},{"x":95,"y":7.5},{"x":98,"y":8.5},{"x":101,"y":8.0},{"x":103,"y":5.0},{"x":105,"y":6.0},{"x":107,"y":4.0},{"x":109,"y":2.5},{"x":111,"y":3.0},{"x":113,"y":1.0},{"x":115,"y":2.0},{"x":117,"y":0.3},{"x":121,"y":0.2},{"x":125,"y":0.1},{"x":130,"y":0.3},{"x":133,"y":1.5},{"x":136,"y":2.0},{"x":139,"y":3.5},{"x":141,"y":4.3},{"x":144,"y":3.5},{"x":146,"y":3.0},{"x":149,"y":2.0},{"x":152,"y":2.5},{"x":155,"y":1.0},{"x":158,"y":2.5},{"x":160,"y":5.7},{"x":163,"y":5.0},{"x":166,"y":5.2},{"x":169,"y":4.0},{"x":171,"y":2.5},{"x":174,"y":3.0},{"x":177,"y":2.0},{"x":180,"y":1.5},{"x":183,"y":2.5},{"x":186,"y":1.5},{"x":189,"y":2.5},{"x":192,"y":1.5},{"x":195,"y":2.5},{"x":198,"y":1.5},{"x":201,"y":2.0},{"x":204,"y":1.0},{"x":207,"y":2.5},{"x":210,"y":1.5},{"x":213,"y":1.0},{"x":216,"y":2.0},{"x":219,"y":1.5},{"x":222,"y":2.5},{"x":225,"y":4.0},{"x":228,"y":6.5},{"x":231,"y":9.8},{"x":233,"y":8.5},{"x":235,"y":6.0},{"x":236,"y":7.0},{"x":238,"y":4.5},{"x":240,"y":2.0},{"x":243,"y":2.5},{"x":246,"y":1.5},{"x":249,"y":2.0},{"x":251,"y":0.8},{"x":254,"y":2.0},{"x":257,"y":3.3},{"x":260,"y":3.0},{"x":263,"y":3.2},{"x":265,"y":1.5},{"x":267,"y":0.5},{"x":269,"y":0.0}],
"f3": [{"x":50,"y":19.5},{"x":51,"y":22.0},{"x":53,"y":17.5},{"x":54,"y":17.0},{"x":55,"y":15.5},{"x":57,"y":13.0},{"x":58,"y":10.5},{"x":60,"y":10.0},{"x":63,"y":11.0},{"x":65,"y":9.0},{"x":67,"y":8.5},{"x":68,"y":3.0},{"x":70,"y":4.5},{"x":71,"y":7.0},{"x":74,"y":7.5},{"x":76,"y":9.0},{"x":78,"y":10.5},{"x":80,"y":11.5},{"x":81,"y":10.5},{"x":82,"y":7.0},{"x":84,"y":6.8},{"x":86,"y":8.0},{"x":88,"y":8.8},{"x":90,"y":8.8},{"x":92,"y":8.5},{"x":93,"y":7.0},{"x":95,"y":8.0},{"x":96,"y":7.5},{"x":97,"y":6.0},{"x":99,"y":3.0},{"x":100,"y":4.5},{"x":101,"y":3.5},{"x":103,"y":2.0},{"x":105,"y":3.0},{"x":106,"y":5.5},{"x":107,"y":2.0},{"x":109,"y":3.0},{"x":110,"y":2.0},{"x":112,"y":2.5},{"x":114,"y":3.0},{"x":115,"y":2.5},{"x":117,"y":2.0},{"x":119,"y":2.5},{"x":121,"y":2.0},{"x":123,"y":1.5},{"x":125,"y":2.0},{"x":128,"y":3.5},{"x":130,"y":3.5},{"x":133,"y":4.2},{"x":134,"y":4.5},{"x":137,"y":3.8},{"x":139,"y":3.5},{"x":142,"y":3.0},{"x":145,"y":2.0},{"x":148,"y":1.8},{"x":150,"y":2.5},{"x":151,"y":3.0},{"x":153,"y":5.8},{"x":155,"y":5.0},{"x":157,"y":5.5},{"x":159,"y":5.2},{"x":161,"y":5.5},{"x":163,"y":4.5},{"x":165,"y":4.5},{"x":168,"y":4.5},{"x":170,"y":3.5},{"x":172,"y":3.0},{"x":174,"y":2.8},{"x":178,"y":2.8},{"x":180,"y":3.2},{"x":182,"y":2.5},{"x":187,"y":2.5},{"x":189,"y":2.8},{"x":191,"y":2.3},{"x":195,"y":2.3},{"x":197,"y":3.5},{"x":199,"y":3.0},{"x":201,"y":3.0},{"x":203,"y":3.5},{"x":208,"y":4.5},{"x":212,"y":5.0},{"x":216,"y":5.5},{"x":218,"y":6.0},{"x":220,"y":7.0},{"x":221,"y":10.0},{"x":223,"y":9.5},{"x":224,"y":7.5},{"x":226,"y":8.0},{"x":227,"y":6.0},{"x":229,"y":4.0},{"x":231,"y":4.5},{"x":233,"y":4.5},{"x":235,"y":5.0},{"x":237,"y":4.5},{"x":239,"y":5.0},{"x":241,"y":4.8},{"x":245,"y":5.0},{"x":250,"y":5.3},{"x":252,"y":5.0},{"x":254,"y":5.5},{"x":256,"y":5.0},{"x":258,"y":5.5},{"x":260,"y":5.2},{"x":262,"y":5.6},{"x":264,"y":5.2},{"x":266,"y":4.5},{"x":269,"y":4.3}]
},
"vconcat": [
{"title": {"text": "Granger causes", "subtitle": "Area II ————→ Area I", "font": "Liberation Serif", "fontStyle": "italic", "fontSize": 8.5, "color": "#222", "subtitleFont": "Liberation Serif", "subtitleFontStyle": "italic", "subtitleFontSize": 16, "subtitleColor": "#111", "anchor": "middle", "subtitlePadding": 3, "offset": 0},
 "hconcat": [
 {"width": 208, "height": 98, "title": {"text": "Forward expanding Wald test for AREA_I G-caused by AREA_II, 1 - 269", "subtitle": "with 90th (--) and 95th (..) percentiles of bootstrapped test statistics"},
  "layer": [
  {"data": {"name": "a1"}, "mark": "line", "encoding": {"x": {"field": "x", "type": "quantitative", "title": null, "scale": {"domain": [44, 306]}, "axis": {"values": [50, 100, 150, 200, 250, 300]}}, "y": {"field": "y", "type": "quantitative", "title": null, "scale": {"domain": [-0.4, 15.6]}, "axis": {"values": [0, 5, 10, 15]}}}},
  {"data": {"name": "thr"}, "transform": [{"filter": "datum.k == 'a1'"}], "mark": "rule", "encoding": {"x": {"field": "x0", "type": "quantitative", "title": null}, "x2": {"field": "x1"}, "y": {"field": "v", "type": "quantitative", "title": null}, "strokeDash": {"field": "q", "type": "nominal", "scale": {"domain": ["90th", "95th"], "range": [[4, 2], [1, 1.5]]}, "legend": null}, "color": {"field": "q", "type": "nominal", "scale": {"domain": ["90th", "95th"], "range": ["#333", "#555"]}, "legend": null}}}
 ]},
 {"width": 208, "height": 98, "title": {"text": "Rolling Wald test for AREA_I G-caused by AREA_II, 1 - 269", "subtitle": "with 90th (--) and 95th (..) percentiles of bootstrapped test statistics"},
  "layer": [
  {"data": {"name": "a2"}, "mark": "line", "encoding": {"x": {"field": "x", "type": "quantitative", "title": null, "scale": {"domain": [44, 306]}, "axis": {"values": [50, 100, 150, 200, 250, 300]}}, "y": {"field": "y", "type": "quantitative", "title": null, "scale": {"domain": [-0.5, 22.2]}, "axis": {"values": [0, 5, 10, 15, 20]}}}},
  {"data": {"name": "thr"}, "transform": [{"filter": "datum.k == 'a2'"}], "mark": "rule", "encoding": {"x": {"field": "x0", "type": "quantitative", "title": null}, "x2": {"field": "x1"}, "y": {"field": "v", "type": "quantitative", "title": null}, "strokeDash": {"field": "q", "type": "nominal", "scale": {"domain": ["90th", "95th"], "range": [[4, 2], [1, 1.5]]}, "legend": null}, "color": {"field": "q", "type": "nominal", "scale": {"domain": ["90th", "95th"], "range": ["#333", "#555"]}, "legend": null}}}
 ]},
 {"width": 208, "height": 98, "title": {"text": "Recursive expanding Wald test for AREA_I G-caused by AREA_II, 1 - 269", "subtitle": "with 90th (--) and 95th (..) percentiles of bootstrapped test statistics"},
  "layer": [
  {"data": {"name": "a3"}, "mark": "line", "encoding": {"x": {"field": "x", "type": "quantitative", "title": null, "scale": {"domain": [44, 306]}, "axis": {"values": [50, 100, 150, 200, 250, 300]}}, "y": {"field": "y", "type": "quantitative", "title": null, "scale": {"domain": [-0.5, 22.2]}, "axis": {"values": [0, 5, 10, 15, 20]}}}},
  {"data": {"name": "thr"}, "transform": [{"filter": "datum.k == 'a3'"}], "mark": "rule", "encoding": {"x": {"field": "x0", "type": "quantitative", "title": null}, "x2": {"field": "x1"}, "y": {"field": "v", "type": "quantitative", "title": null}, "strokeDash": {"field": "q", "type": "nominal", "scale": {"domain": ["90th", "95th"], "range": [[4, 2], [1, 1.5]]}, "legend": null}, "color": {"field": "q", "type": "nominal", "scale": {"domain": ["90th", "95th"], "range": ["#333", "#555"]}, "legend": null}}}
 ]}
 ]},
{"title": {"text": "Granger causes", "subtitle": "Area III ————→ Area I", "font": "Liberation Serif", "fontStyle": "italic", "fontSize": 8.5, "color": "#222", "subtitleFont": "Liberation Serif", "subtitleFontStyle": "italic", "subtitleFontSize": 16, "subtitleColor": "#111", "anchor": "middle", "subtitlePadding": 3, "offset": 0},
 "hconcat": [
 {"width": 208, "height": 98, "title": {"text": "Forward expanding Wald test for AREA_I G-caused by AREA_III, 1 - 269", "subtitle": "with 90th (--) and 95th (..) percentiles of bootstrapped test statistics"},
  "layer": [
  {"data": {"name": "b1"}, "mark": "line", "encoding": {"x": {"field": "x", "type": "quantitative", "title": null, "scale": {"domain": [44, 306]}, "axis": {"values": [50, 100, 150, 200, 250, 300]}}, "y": {"field": "y", "type": "quantitative", "title": null, "scale": {"domain": [-0.25, 10.3]}, "axis": {"values": [0, 2, 4, 6, 8, 10]}}}},
  {"data": {"name": "thr"}, "transform": [{"filter": "datum.k == 'b1'"}], "mark": "rule", "encoding": {"x": {"field": "x0", "type": "quantitative", "title": null}, "x2": {"field": "x1"}, "y": {"field": "v", "type": "quantitative", "title": null}, "strokeDash": {"field": "q", "type": "nominal", "scale": {"domain": ["90th", "95th"], "range": [[4, 2], [1, 1.5]]}, "legend": null}, "color": {"field": "q", "type": "nominal", "scale": {"domain": ["90th", "95th"], "range": ["#333", "#555"]}, "legend": null}}}
 ]},
 {"width": 208, "height": 98, "title": {"text": "Rolling Wald test for AREA_I G-caused by AREA_III, 1 - 269", "subtitle": "with 90th (--) and 95th (..) percentiles of bootstrapped test statistics"},
  "layer": [
  {"data": {"name": "b2"}, "mark": "line", "encoding": {"x": {"field": "x", "type": "quantitative", "title": null, "scale": {"domain": [44, 306]}, "axis": {"values": [50, 100, 150, 200, 250, 300]}}, "y": {"field": "y", "type": "quantitative", "title": null, "scale": {"domain": [-0.4, 15.5]}, "axis": {"values": [0, 5, 10, 15]}}}},
  {"data": {"name": "thr"}, "transform": [{"filter": "datum.k == 'b2'"}], "mark": "rule", "encoding": {"x": {"field": "x0", "type": "quantitative", "title": null}, "x2": {"field": "x1"}, "y": {"field": "v", "type": "quantitative", "title": null}, "strokeDash": {"field": "q", "type": "nominal", "scale": {"domain": ["90th", "95th"], "range": [[4, 2], [1, 1.5]]}, "legend": null}, "color": {"field": "q", "type": "nominal", "scale": {"domain": ["90th", "95th"], "range": ["#333", "#555"]}, "legend": null}}}
 ]},
 {"width": 208, "height": 98, "title": {"text": "Recursive expanding Wald test for AREA_I G-caused by AREA_III, 1 - 269", "subtitle": "with 90th (--) and 95th (..) percentiles of bootstrapped test statistics"},
  "layer": [
  {"data": {"name": "b3"}, "mark": "line", "encoding": {"x": {"field": "x", "type": "quantitative", "title": null, "scale": {"domain": [44, 306]}, "axis": {"values": [50, 100, 150, 200, 250, 300]}}, "y": {"field": "y", "type": "quantitative", "title": null, "scale": {"domain": [-0.4, 15.5]}, "axis": {"values": [0, 5, 10, 15]}}}},
  {"data": {"name": "thr"}, "transform": [{"filter": "datum.k == 'b3'"}], "mark": "rule", "encoding": {"x": {"field": "x0", "type": "quantitative", "title": null}, "x2": {"field": "x1"}, "y": {"field": "v", "type": "quantitative", "title": null}, "strokeDash": {"field": "q", "type": "nominal", "scale": {"domain": ["90th", "95th"], "range": [[4, 2], [1, 1.5]]}, "legend": null}, "color": {"field": "q", "type": "nominal", "scale": {"domain": ["90th", "95th"], "range": ["#333", "#555"]}, "legend": null}}}
 ]}
 ]},
{"title": {"text": "Granger causes", "subtitle": "Area I ————→ Area II", "font": "Liberation Serif", "fontStyle": "italic", "fontSize": 8.5, "color": "#222", "subtitleFont": "Liberation Serif", "subtitleFontStyle": "italic", "subtitleFontSize": 16, "subtitleColor": "#111", "anchor": "middle", "subtitlePadding": 3, "offset": 0},
 "hconcat": [
 {"width": 208, "height": 98, "title": {"text": "Forward expanding Wald test for AREA_II G-caused by AREA_I, 1 - 269", "subtitle": "with 90th (--) and 95th (..) percentiles of bootstrapped test statistics"},
  "layer": [
  {"data": {"name": "c1"}, "mark": "line", "encoding": {"x": {"field": "x", "type": "quantitative", "title": null, "scale": {"domain": [44, 306]}, "axis": {"values": [50, 100, 150, 200, 250, 300]}}, "y": {"field": "y", "type": "quantitative", "title": null, "scale": {"domain": [-0.5, 20.5]}, "axis": {"values": [0, 5, 10, 15, 20]}}}},
  {"data": {"name": "thr"}, "transform": [{"filter": "datum.k == 'c1'"}], "mark": "rule", "encoding": {"x": {"field": "x0", "type": "quantitative", "title": null}, "x2": {"field": "x1"}, "y": {"field": "v", "type": "quantitative", "title": null}, "strokeDash": {"field": "q", "type": "nominal", "scale": {"domain": ["90th", "95th"], "range": [[4, 2], [1, 1.5]]}, "legend": null}, "color": {"field": "q", "type": "nominal", "scale": {"domain": ["90th", "95th"], "range": ["#333", "#555"]}, "legend": null}}}
 ]},
 {"width": 208, "height": 98, "title": {"text": "Rolling Wald test for AREA_II G-caused by AREA_I, 1 - 269", "subtitle": "with 90th (--) and 95th (..) percentiles of bootstrapped test statistics"},
  "layer": [
  {"data": {"name": "c2"}, "mark": "line", "encoding": {"x": {"field": "x", "type": "quantitative", "title": null, "scale": {"domain": [44, 306]}, "axis": {"values": [50, 100, 150, 200, 250, 300]}}, "y": {"field": "y", "type": "quantitative", "title": null, "scale": {"domain": [-0.5, 20.5]}, "axis": {"values": [0, 5, 10, 15, 20]}}}},
  {"data": {"name": "thr"}, "transform": [{"filter": "datum.k == 'c2'"}], "mark": "rule", "encoding": {"x": {"field": "x0", "type": "quantitative", "title": null}, "x2": {"field": "x1"}, "y": {"field": "v", "type": "quantitative", "title": null}, "strokeDash": {"field": "q", "type": "nominal", "scale": {"domain": ["90th", "95th"], "range": [[4, 2], [1, 1.5]]}, "legend": null}, "color": {"field": "q", "type": "nominal", "scale": {"domain": ["90th", "95th"], "range": ["#333", "#555"]}, "legend": null}}}
 ]},
 {"width": 208, "height": 98, "title": {"text": "Recursive expanding Wald test for AREA_II G-caused by AREA_I, 1 - 269", "subtitle": "with 90th (--) and 95th (..) percentiles of bootstrapped test statistics"},
  "layer": [
  {"data": {"name": "c3"}, "mark": "line", "encoding": {"x": {"field": "x", "type": "quantitative", "title": null, "scale": {"domain": [44, 306]}, "axis": {"values": [50, 100, 150, 200, 250, 300]}}, "y": {"field": "y", "type": "quantitative", "title": null, "scale": {"domain": [-0.5, 22.5]}, "axis": {"values": [0, 5, 10, 15, 20]}}}},
  {"data": {"name": "thr"}, "transform": [{"filter": "datum.k == 'c3'"}], "mark": "rule", "encoding": {"x": {"field": "x0", "type": "quantitative", "title": null}, "x2": {"field": "x1"}, "y": {"field": "v", "type": "quantitative", "title": null}, "strokeDash": {"field": "q", "type": "nominal", "scale": {"domain": ["90th", "95th"], "range": [[4, 2], [1, 1.5]]}, "legend": null}, "color": {"field": "q", "type": "nominal", "scale": {"domain": ["90th", "95th"], "range": ["#333", "#555"]}, "legend": null}}}
 ]}
 ]},
{"title": {"text": "Granger causes", "subtitle": "Area III ————→ Area II", "font": "Liberation Serif", "fontStyle": "italic", "fontSize": 8.5, "color": "#222", "subtitleFont": "Liberation Serif", "subtitleFontStyle": "italic", "subtitleFontSize": 16, "subtitleColor": "#111", "anchor": "middle", "subtitlePadding": 3, "offset": 0},
 "hconcat": [
 {"width": 208, "height": 98, "title": {"text": "Forward expanding Wald test for AREA_II G-caused by AREA_III, 1 - 269", "subtitle": "with 90th (--) and 95th (..) percentiles of bootstrapped test statistics"},
  "layer": [
  {"data": {"name": "d1"}, "mark": "line", "encoding": {"x": {"field": "x", "type": "quantitative", "title": null, "scale": {"domain": [44, 306]}, "axis": {"values": [50, 100, 150, 200, 250, 300]}}, "y": {"field": "y", "type": "quantitative", "title": null, "scale": {"domain": [-0.2, 8.6]}, "axis": {"values": [0, 2, 4, 6, 8]}}}},
  {"data": {"name": "thr"}, "transform": [{"filter": "datum.k == 'd1'"}], "mark": "rule", "encoding": {"x": {"field": "x0", "type": "quantitative", "title": null}, "x2": {"field": "x1"}, "y": {"field": "v", "type": "quantitative", "title": null}, "strokeDash": {"field": "q", "type": "nominal", "scale": {"domain": ["90th", "95th"], "range": [[4, 2], [1, 1.5]]}, "legend": null}, "color": {"field": "q", "type": "nominal", "scale": {"domain": ["90th", "95th"], "range": ["#333", "#555"]}, "legend": null}}}
 ]},
 {"width": 208, "height": 98, "title": {"text": "Rolling Wald test for AREA_II G-caused by AREA_III, 1 - 269", "subtitle": "with 90th (--) and 95th (..) percentiles of bootstrapped test statistics"},
  "layer": [
  {"data": {"name": "d2"}, "mark": "line", "encoding": {"x": {"field": "x", "type": "quantitative", "title": null, "scale": {"domain": [44, 306]}, "axis": {"values": [50, 100, 150, 200, 250, 300]}}, "y": {"field": "y", "type": "quantitative", "title": null, "scale": {"domain": [-0.5, 20.5]}, "axis": {"values": [0, 5, 10, 15, 20]}}}},
  {"data": {"name": "thr"}, "transform": [{"filter": "datum.k == 'd2'"}], "mark": "rule", "encoding": {"x": {"field": "x0", "type": "quantitative", "title": null}, "x2": {"field": "x1"}, "y": {"field": "v", "type": "quantitative", "title": null}, "strokeDash": {"field": "q", "type": "nominal", "scale": {"domain": ["90th", "95th"], "range": [[4, 2], [1, 1.5]]}, "legend": null}, "color": {"field": "q", "type": "nominal", "scale": {"domain": ["90th", "95th"], "range": ["#333", "#555"]}, "legend": null}}}
 ]},
 {"width": 208, "height": 98, "title": {"text": "Recursive expanding Wald test for AREA_II G-caused by AREA_III, 1 - 269", "subtitle": "with 90th (--) and 95th (..) percentiles of bootstrapped test statistics"},
  "layer": [
  {"data": {"name": "d3"}, "mark": "line", "encoding": {"x": {"field": "x", "type": "quantitative", "title": null, "scale": {"domain": [44, 306]}, "axis": {"values": [50, 100, 150, 200, 250, 300]}}, "y": {"field": "y", "type": "quantitative", "title": null, "scale": {"domain": [-0.5, 22.5]}, "axis": {"values": [0, 5, 10, 15, 20]}}}},
  {"data": {"name": "thr"}, "transform": [{"filter": "datum.k == 'd3'"}], "mark": "rule", "encoding": {"x": {"field": "x0", "type": "quantitative", "title": null}, "x2": {"field": "x1"}, "y": {"field": "v", "type": "quantitative", "title": null}, "strokeDash": {"field": "q", "type": "nominal", "scale": {"domain": ["90th", "95th"], "range": [[4, 2], [1, 1.5]]}, "legend": null}, "color": {"field": "q", "type": "nominal", "scale": {"domain": ["90th", "95th"], "range": ["#333", "#555"]}, "legend": null}}}
 ]}
 ]},
{"title": {"text": "Granger causes", "subtitle": "Area I ————→ Area III", "font": "Liberation Serif", "fontStyle": "italic", "fontSize": 8.5, "color": "#222", "subtitleFont": "Liberation Serif", "subtitleFontStyle": "italic", "subtitleFontSize": 16, "subtitleColor": "#111", "anchor": "middle", "subtitlePadding": 3, "offset": 0},
 "hconcat": [
 {"width": 208, "height": 98, "title": {"text": "Forward expanding Wald test for AREA_III G-caused by AREA_I, 1 - 269", "subtitle": "with 90th (--) and 95th (..) percentiles of bootstrapped test statistics"},
  "layer": [
  {"data": {"name": "e1"}, "mark": "line", "encoding": {"x": {"field": "x", "type": "quantitative", "title": null, "scale": {"domain": [44, 306]}, "axis": {"values": [50, 100, 150, 200, 250, 300]}}, "y": {"field": "y", "type": "quantitative", "title": null, "scale": {"domain": [-0.2, 8.6]}, "axis": {"values": [0, 2, 4, 6, 8]}}}},
  {"data": {"name": "thr"}, "transform": [{"filter": "datum.k == 'e1'"}], "mark": "rule", "encoding": {"x": {"field": "x0", "type": "quantitative", "title": null}, "x2": {"field": "x1"}, "y": {"field": "v", "type": "quantitative", "title": null}, "strokeDash": {"field": "q", "type": "nominal", "scale": {"domain": ["90th", "95th"], "range": [[4, 2], [1, 1.5]]}, "legend": null}, "color": {"field": "q", "type": "nominal", "scale": {"domain": ["90th", "95th"], "range": ["#333", "#555"]}, "legend": null}}}
 ]},
 {"width": 208, "height": 98, "title": {"text": "Rolling Wald test for AREA_III G-caused by AREA_I, 1 - 269", "subtitle": "with 90th (--) and 95th (..) percentiles of bootstrapped test statistics"},
  "layer": [
  {"data": {"name": "e2"}, "mark": "line", "encoding": {"x": {"field": "x", "type": "quantitative", "title": null, "scale": {"domain": [44, 306]}, "axis": {"values": [50, 100, 150, 200, 250, 300]}}, "y": {"field": "y", "type": "quantitative", "title": null, "scale": {"domain": [-0.5, 20.5]}, "axis": {"values": [0, 5, 10, 15, 20]}}}},
  {"data": {"name": "thr"}, "transform": [{"filter": "datum.k == 'e2'"}], "mark": "rule", "encoding": {"x": {"field": "x0", "type": "quantitative", "title": null}, "x2": {"field": "x1"}, "y": {"field": "v", "type": "quantitative", "title": null}, "strokeDash": {"field": "q", "type": "nominal", "scale": {"domain": ["90th", "95th"], "range": [[4, 2], [1, 1.5]]}, "legend": null}, "color": {"field": "q", "type": "nominal", "scale": {"domain": ["90th", "95th"], "range": ["#333", "#555"]}, "legend": null}}}
 ]},
 {"width": 208, "height": 98, "title": {"text": "Recursive expanding Wald test for AREA_III G-caused by AREA_I, 1 - 269", "subtitle": "with 90th (--) and 95th (..) percentiles of bootstrapped test statistics"},
  "layer": [
  {"data": {"name": "e3"}, "mark": "line", "encoding": {"x": {"field": "x", "type": "quantitative", "title": null, "scale": {"domain": [44, 306]}, "axis": {"values": [50, 100, 150, 200, 250, 300]}}, "y": {"field": "y", "type": "quantitative", "title": null, "scale": {"domain": [-0.6, 25.5]}, "axis": {"values": [0, 5, 10, 15, 20, 25]}}}},
  {"data": {"name": "thr"}, "transform": [{"filter": "datum.k == 'e3'"}], "mark": "rule", "encoding": {"x": {"field": "x0", "type": "quantitative", "title": null}, "x2": {"field": "x1"}, "y": {"field": "v", "type": "quantitative", "title": null}, "strokeDash": {"field": "q", "type": "nominal", "scale": {"domain": ["90th", "95th"], "range": [[4, 2], [1, 1.5]]}, "legend": null}, "color": {"field": "q", "type": "nominal", "scale": {"domain": ["90th", "95th"], "range": ["#333", "#555"]}, "legend": null}}}
 ]}
 ]},
{"title": {"text": "Granger causes", "subtitle": "Area II ————→ Area III", "font": "Liberation Serif", "fontStyle": "italic", "fontSize": 8.5, "color": "#222", "subtitleFont": "Liberation Serif", "subtitleFontStyle": "italic", "subtitleFontSize": 16, "subtitleColor": "#111", "anchor": "middle", "subtitlePadding": 3, "offset": 0},
 "hconcat": [
 {"width": 208, "height": 98, "title": {"text": "Forward expanding Wald test for AREA_III G-caused by AREA_II, 1 - 269", "subtitle": "with 90th (--) and 95th (..) percentiles of bootstrapped test statistics"},
  "layer": [
  {"data": {"name": "f1"}, "mark": "line", "encoding": {"x": {"field": "x", "type": "quantitative", "title": null, "scale": {"domain": [44, 306]}, "axis": {"values": [50, 100, 150, 200, 250, 300]}}, "y": {"field": "y", "type": "quantitative", "title": null, "scale": {"domain": [-0.5, 20.5]}, "axis": {"values": [0, 5, 10, 15, 20]}}}},
  {"data": {"name": "thr"}, "transform": [{"filter": "datum.k == 'f1'"}], "mark": "rule", "encoding": {"x": {"field": "x0", "type": "quantitative", "title": null}, "x2": {"field": "x1"}, "y": {"field": "v", "type": "quantitative", "title": null}, "strokeDash": {"field": "q", "type": "nominal", "scale": {"domain": ["90th", "95th"], "range": [[4, 2], [1, 1.5]]}, "legend": null}, "color": {"field": "q", "type": "nominal", "scale": {"domain": ["90th", "95th"], "range": ["#333", "#555"]}, "legend": null}}}
 ]},
 {"width": 208, "height": 98, "title": {"text": "Rolling Wald test for AREA_III G-caused by AREA_II, 1 - 269", "subtitle": "with 90th (--) and 95th (..) percentiles of bootstrapped test statistics"},
  "layer": [
  {"data": {"name": "f2"}, "mark": "line", "encoding": {"x": {"field": "x", "type": "quantitative", "title": null, "scale": {"domain": [44, 306]}, "axis": {"values": [50, 100, 150, 200, 250, 300]}}, "y": {"field": "y", "type": "quantitative", "title": null, "scale": {"domain": [-0.5, 22.5]}, "axis": {"values": [0, 5, 10, 15, 20]}}}},
  {"data": {"name": "thr"}, "transform": [{"filter": "datum.k == 'f2'"}], "mark": "rule", "encoding": {"x": {"field": "x0", "type": "quantitative", "title": null}, "x2": {"field": "x1"}, "y": {"field": "v", "type": "quantitative", "title": null}, "strokeDash": {"field": "q", "type": "nominal", "scale": {"domain": ["90th", "95th"], "range": [[4, 2], [1, 1.5]]}, "legend": null}, "color": {"field": "q", "type": "nominal", "scale": {"domain": ["90th", "95th"], "range": ["#333", "#555"]}, "legend": null}}}
 ]},
 {"width": 208, "height": 98, "title": {"text": "Recursive expanding Wald test for AREA_III G-caused by AREA_II, 1 - 269", "subtitle": "with 90th (--) and 95th (..) percentiles of bootstrapped test statistics"},
  "layer": [
  {"data": {"name": "f3"}, "mark": "line", "encoding": {"x": {"field": "x", "type": "quantitative", "title": null, "scale": {"domain": [44, 306]}, "axis": {"values": [50, 100, 150, 200, 250, 300]}}, "y": {"field": "y", "type": "quantitative", "title": null, "scale": {"domain": [-0.5, 22.5]}, "axis": {"values": [0, 5, 10, 15, 20]}}}},
  {"data": {"name": "thr"}, "transform": [{"filter": "datum.k == 'f3'"}], "mark": "rule", "encoding": {"x": {"field": "x0", "type": "quantitative", "title": null}, "x2": {"field": "x1"}, "y": {"field": "v", "type": "quantitative", "title": null}, "strokeDash": {"field": "q", "type": "nominal", "scale": {"domain": ["90th", "95th"], "range": [[4, 2], [1, 1.5]]}, "legend": null}, "color": {"field": "q", "type": "nominal", "scale": {"domain": ["90th", "95th"], "range": ["#333", "#555"]}, "legend": null}}}
 ]}
 ]}
],
"spacing": 10
}
